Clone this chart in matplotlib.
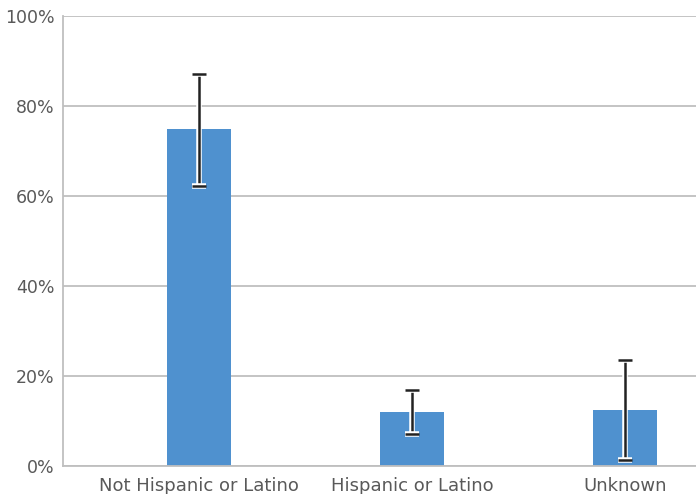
import matplotlib
matplotlib.use("Agg")
import matplotlib.pyplot as plt
import matplotlib.patheffects as pe
import numpy as np

categories = ["Not Hispanic or Latino", "Hispanic or Latino", "Unknown"]
values = [74.9, 12.0, 12.4]
err_low = [62.2, 7.1, 1.3]
err_high = [87.1, 16.9, 23.6]

plt.rcParams['font.family'] = ['DejaVu Sans']

fig = plt.figure(figsize=(6.96, 4.94), dpi=100)
axes = fig.add_axes([63 / 696, 28 / 494, 633 / 696, 450 / 494])

x = np.arange(len(categories))
vals = np.array(values)
yerr = np.array([vals - np.array(err_low), np.array(err_high) - vals])

axes.set_axisbelow(True)
axes.yaxis.grid(True, color='#bfbfbf', linewidth=1.3)
axes.bar(x, vals, width=0.3, color='#4f91cf', zorder=2)

eb = axes.errorbar(x, vals, yerr=yerr, fmt='none', ecolor='#222222',
                   elinewidth=1.8, capsize=5, capthick=1.8, zorder=3)
halo = [pe.withStroke(linewidth=4, foreground='white')]
for line in eb.lines[1]:
    line.set_path_effects(halo)
for coll in eb.lines[2]:
    coll.set_path_effects(halo)

axes.set_xlim(-0.6385, 2.333)
axes.set_ylim(0, 100)
axes.set_yticks(range(0, 101, 20))
axes.set_yticklabels([f"{v}%" for v in range(0, 101, 20)])
axes.set_xticks(x)
axes.set_xticklabels(categories)

axes.tick_params(axis='both', length=0, labelcolor='#595959')
axes.tick_params(axis='y', pad=6, labelsize=12.5)
axes.tick_params(axis='x', pad=8, labelsize=13)

axes.spines['top'].set_visible(False)
axes.spines['right'].set_visible(False)
axes.spines['left'].set_color('#bfbfbf')
axes.spines['bottom'].set_color('#bfbfbf')
axes.spines['left'].set_linewidth(1.3)
axes.spines['bottom'].set_linewidth(1.3)

fig.savefig("out.png", dpi=100)
